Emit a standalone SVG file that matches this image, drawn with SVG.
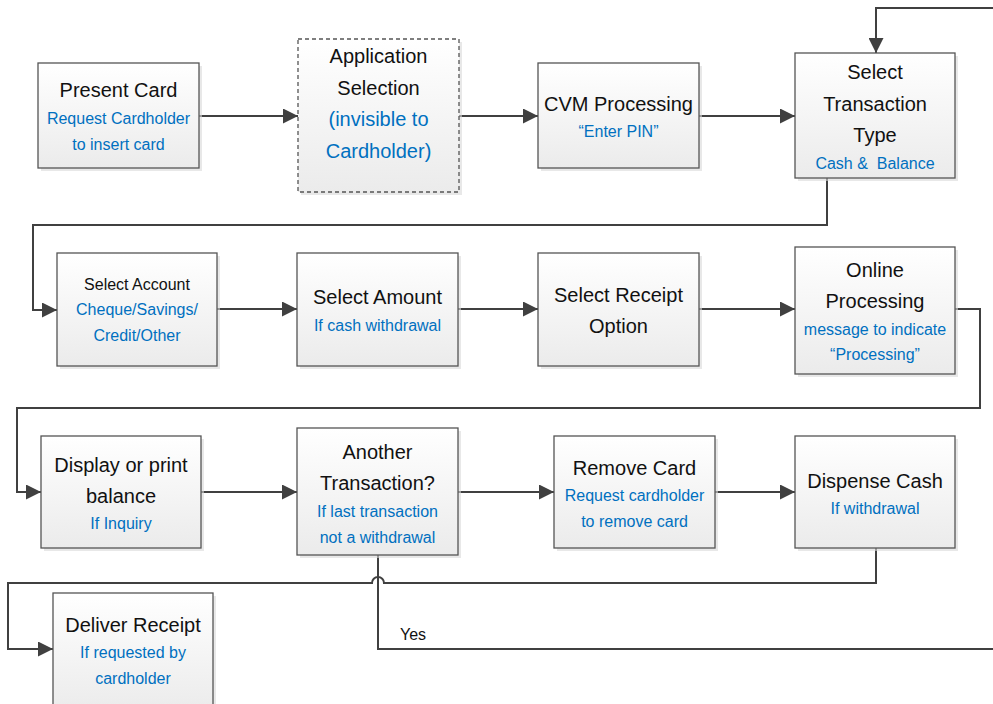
<svg xmlns="http://www.w3.org/2000/svg" width="993" height="704" viewBox="0 0 993 704">
<defs>
<linearGradient id="g" x1="0" y1="0" x2="0" y2="1">
<stop offset="0" stop-color="#ffffff"/>
<stop offset="1" stop-color="#ebebeb"/>
</linearGradient>
<marker id="arr" viewBox="0 0 15 15" refX="15" refY="7.5" markerWidth="15" markerHeight="15" markerUnits="userSpaceOnUse" orient="auto">
<path d="M0,0 L15,7.5 L0,15 Z" fill="#404040"/>
</marker>
</defs>
<style>
.box{fill:url(#g);stroke:#555555;stroke-width:1.3}
.dash{stroke-dasharray:4 3}
.sh{fill:#d9d9d9;opacity:0.6}
.t{font-family:"Liberation Sans",Arial,sans-serif;font-size:20px;fill:#111111;text-anchor:middle}
.s{font-family:"Liberation Sans",Arial,sans-serif;font-size:16px;fill:#0070C0;text-anchor:middle}
.tb{font-family:"Liberation Sans",Arial,sans-serif;font-size:20px;fill:#0070C0;text-anchor:middle}
.k{font-family:"Liberation Sans",Arial,sans-serif;font-size:16px;fill:#111111;text-anchor:middle}
.c{fill:none;stroke:#404040;stroke-width:2}
.a{marker-end:url(#arr)}
</style>
<rect width="993" height="704" fill="#ffffff"/>

<g id="connectors">
<path class="c a" d="M199,116 H298"/>
<path class="c a" d="M459,116 H538"/>
<path class="c a" d="M699,116 H795"/>
<path class="c a" d="M993,8 H876 V53"/>
<path class="c a" d="M827,178 V225 H33 V310 H57"/>
<path class="c a" d="M217,309 H297"/>
<path class="c a" d="M458,309 H538"/>
<path class="c a" d="M699,309 H795"/>
<path class="c a" d="M955,309 H980 V408 H17 V492 H41"/>
<path class="c a" d="M201,492 H297"/>
<path class="c a" d="M458,492 H554"/>
<path class="c a" d="M715,492 H795"/>
<path class="c a" d="M876,548 V583 H384 A6,6 0 0 0 372,583 H8 V649 H53"/>
<path class="c" d="M378,555 V649 H993"/>
<text class="k" x="413" y="640">Yes</text>
</g>

<g id="present-card">
<rect class="sh" x="41" y="66" width="161" height="105"/>
<rect class="box" x="38" y="63" width="161" height="105"/>
<text class="t" x="118.5" y="97">Present Card</text>
<text class="s" x="118.5" y="124">Request Cardholder</text>
<text class="s" x="118.5" y="150">to insert card</text>
</g>

<g id="application-selection">
<rect class="sh" x="301" y="42" width="161" height="153"/>
<rect class="box dash" x="298" y="39" width="161" height="153"/>
<text class="t" x="378.5" y="63">Application</text>
<text class="t" x="378.5" y="95">Selection</text>
<text class="tb" x="378.5" y="126">(invisible to</text>
<text class="tb" x="378.5" y="158">Cardholder)</text>
</g>

<g id="cvm-processing">
<rect class="sh" x="541" y="66" width="161" height="105"/>
<rect class="box" x="538" y="63" width="161" height="105"/>
<text class="t" x="618.5" y="111">CVM Processing</text>
<text class="s" x="618.5" y="137">“Enter PIN”</text>
</g>

<g id="select-transaction-type">
<rect class="sh" x="798" y="56" width="160" height="125"/>
<rect class="box" x="795" y="53" width="160" height="125"/>
<text class="t" x="875" y="79">Select</text>
<text class="t" x="875" y="111">Transaction</text>
<text class="t" x="875" y="142">Type</text>
<text class="s" x="875" y="169">Cash &amp;&#160; Balance</text>
</g>

<g id="select-account">
<rect class="sh" x="60" y="256" width="160" height="113"/>
<rect class="box" x="57" y="253" width="160" height="113"/>
<text class="k" x="137" y="290">Select Account</text>
<text class="s" x="137" y="315">Cheque/Savings/</text>
<text class="s" x="137" y="341">Credit/Other</text>
</g>

<g id="select-amount">
<rect class="sh" x="300" y="256" width="161" height="113"/>
<rect class="box" x="297" y="253" width="161" height="113"/>
<text class="t" x="377.5" y="304">Select Amount</text>
<text class="s" x="377.5" y="331">If cash withdrawal</text>
</g>

<g id="select-receipt-option">
<rect class="sh" x="541" y="256" width="161" height="113"/>
<rect class="box" x="538" y="253" width="161" height="113"/>
<text class="t" x="618.5" y="302">Select Receipt</text>
<text class="t" x="618.5" y="333">Option</text>
</g>

<g id="online-processing">
<rect class="sh" x="798" y="250" width="160" height="127"/>
<rect class="box" x="795" y="247" width="160" height="127"/>
<text class="t" x="875" y="277">Online</text>
<text class="t" x="875" y="308">Processing</text>
<text class="s" x="875" y="335">message to indicate</text>
<text class="s" x="875" y="360">“Processing”</text>
</g>

<g id="display-balance">
<rect class="sh" x="44" y="439" width="160" height="112"/>
<rect class="box" x="41" y="436" width="160" height="112"/>
<text class="t" x="121" y="472">Display or print</text>
<text class="t" x="121" y="503">balance</text>
<text class="s" x="121" y="529">If Inquiry</text>
</g>

<g id="another-transaction">
<rect class="sh" x="300" y="431" width="161" height="127"/>
<rect class="box" x="297" y="428" width="161" height="127"/>
<text class="t" x="377.5" y="459">Another</text>
<text class="t" x="377.5" y="490">Transaction?</text>
<text class="s" x="377.5" y="517">If last transaction</text>
<text class="s" x="377.5" y="543">not a withdrawal</text>
</g>

<g id="remove-card">
<rect class="sh" x="557" y="439" width="161" height="112"/>
<rect class="box" x="554" y="436" width="161" height="112"/>
<text class="t" x="634.5" y="475">Remove Card</text>
<text class="s" x="634.5" y="501">Request cardholder</text>
<text class="s" x="634.5" y="527">to remove card</text>
</g>

<g id="dispense-cash">
<rect class="sh" x="798" y="439" width="160" height="112"/>
<rect class="box" x="795" y="436" width="160" height="112"/>
<text class="t" x="875" y="488">Dispense Cash</text>
<text class="s" x="875" y="514">If withdrawal</text>
</g>

<g id="deliver-receipt">
<rect class="sh" x="56" y="596" width="160" height="120"/>
<rect class="box" x="53" y="593" width="160" height="120"/>
<text class="t" x="133" y="632">Deliver Receipt</text>
<text class="s" x="133" y="658">If requested by</text>
<text class="s" x="133" y="684">cardholder</text>
</g>
</svg>
